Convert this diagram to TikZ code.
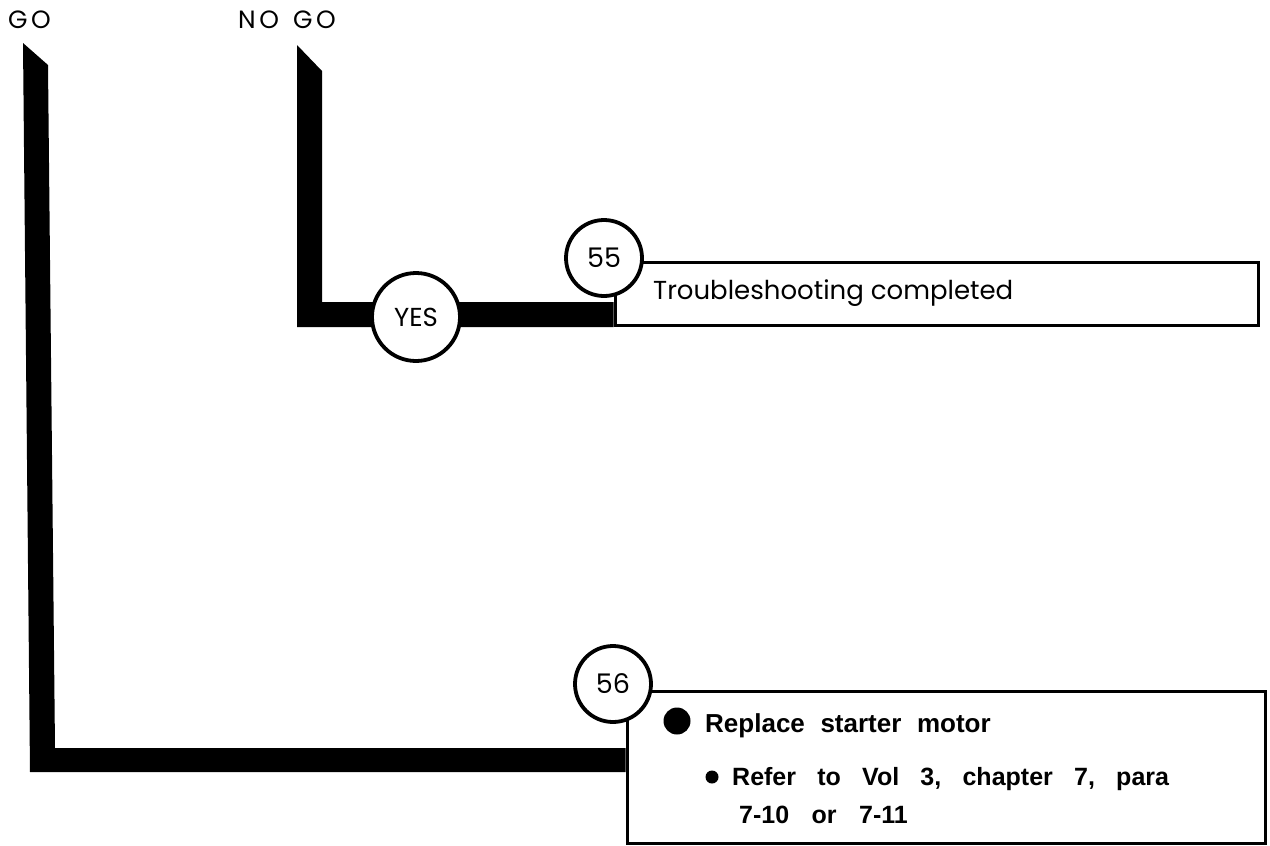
\documentclass[tikz,border=0pt]{standalone}
\usepackage{fontspec}
\setmainfont{Poppins}
\newfontfamily\helv{Liberation Sans}
\newfontfamily\spaced[LetterSpace=14]{Poppins}
\newcommand\widesp[1]{\spaceskip=#1\relax}
\begin{document}
\begin{tikzpicture}[x=1pt,y=-1pt,
  lbl/.style={font=\spaced\fontsize{25}{25}\selectfont, inner sep=0pt},
  numcirc/.style={circle, draw, line width=3.8pt, fill=white, minimum size=76pt, inner sep=0pt, font=\fontsize{27}{27}\selectfont},
  box/.style={draw, line width=3pt, fill=white, rectangle, inner sep=0pt},
  btxt/.style={font=\helv\bfseries\fontsize{25}{25}\selectfont, anchor=base west, inner sep=0pt},
  gtxt/.style={font=\fontsize{26}{26}\selectfont, anchor=base west, inner sep=0pt},
  dot/.style={circle, fill=black, inner sep=0pt}]
\useasboundingbox (0,0) rectangle (1270,846);
% labels
\node[lbl, anchor=base west] (go) at (8,28) {GO};
\node[lbl, anchor=base west] (nogo) at (238,28) {NO\hspace{4pt} GO};
% boxes
\node[box, minimum width=643pt, minimum height=63pt] (b55) at (936.5,294) {};
\node[box, minimum width=638pt, minimum height=152pt] (b56) at (946,767) {};
% bars (connectors)
\coordinate (gotop) at (23,43);
\coordinate (nogotop) at (297,45);
\fill[black] (gotop) -- (48,65) -- (55,748) -- (b56.west |- 0,748) -- (b56.west |- 0,772) -- (30,772) -- cycle;
\fill[black] (nogotop) -- (322,71) -- (322,302) -- (b55.west |- 0,302) -- (b55.west |- 0,327) -- (297,327) -- cycle;
% circles
\node[numcirc, minimum size=88pt, font=\fontsize{26}{26}\selectfont] (yes) at (416,317) {YES};
\node[numcirc] (c55) at (604,258) {55};
\node[numcirc] (c56) at (613,684) {56};
% texts
\node[gtxt] (t55) at (653,299) {Troubleshooting completed};
\node[dot, minimum size=27pt] (d1) at (677,721) {};
\node[btxt, font=\helv\bfseries\fontsize{26}{26}\selectfont] (t1) at (705,732) {\widesp{0.6em}Replace starter motor};
\node[dot, minimum size=13pt] (d2) at (712,777) {};
\node[btxt] (t2) at (732,785) {\widesp{0.85em}Refer to Vol 3, chapter 7, para};
\node[btxt] (t3) at (739,823) {\widesp{0.9em}7-10 or 7-11};
\end{tikzpicture}
\end{document}
